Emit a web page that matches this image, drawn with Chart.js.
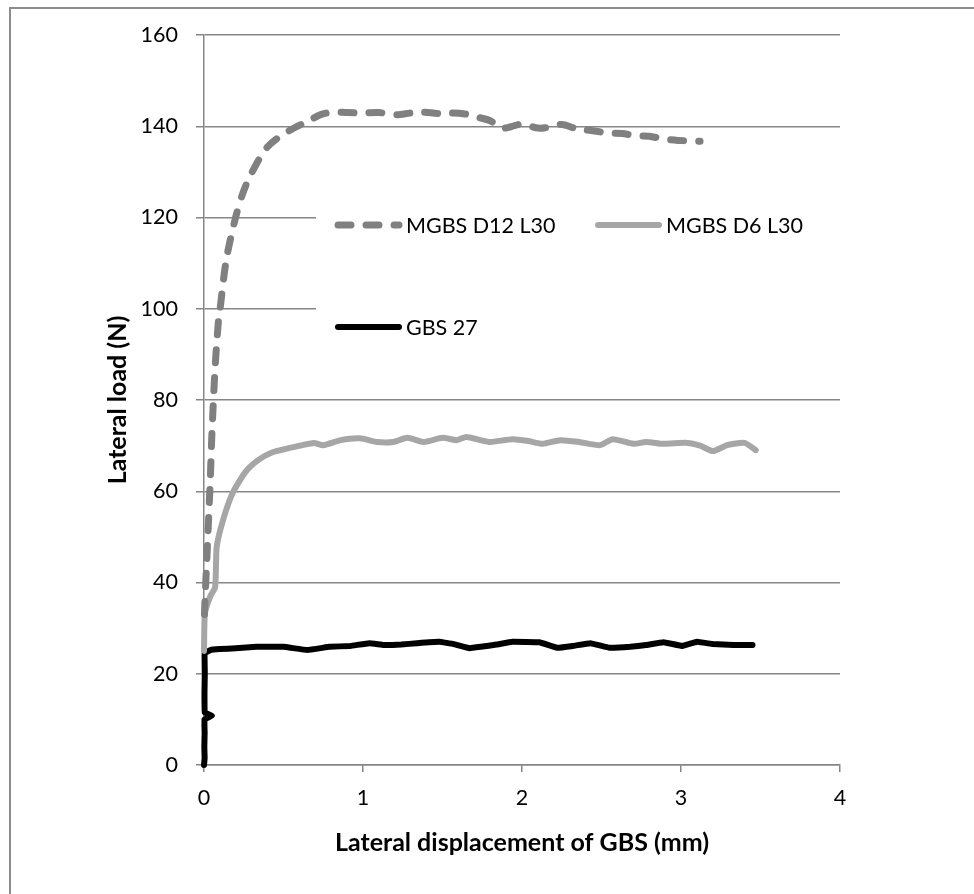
<!DOCTYPE html>
<html>
<head>
<meta charset="utf-8">
<script src="https://cdn.jsdelivr.net/npm/chart.js@4"></script>
<style>
  html, body { margin: 0; padding: 0; background: #fff; overflow: hidden; }
  #wrap { position: relative; width: 974px; height: 894px; }
  #frame { position: absolute; left: 9px; top: 7px; width: 1000px; height: 1000px; border: 2px solid #8c8c8c; box-sizing: border-box; }
  #c { position: absolute; left: 0; top: 0; }
</style>
</head>
<body>
<div id="wrap">
  <div id="frame"></div>
  <canvas id="c" width="974" height="894"></canvas>
</div>
<script>
// series labels
const seriesNames = ["MGBS D12 L30", "MGBS D6 L30", "GBS 27"];

// MGBS D12 L30 (dashed, dark gray)
const d12X = [0.003, 0.006, 0.015, 0.025, 0.04, 0.05, 0.07, 0.09, 0.1, 0.14, 0.195, 0.245, 0.3, 0.4, 0.52, 0.67, 0.73, 0.81, 0.9, 1.0, 1.1, 1.21, 1.3, 1.38, 1.47, 1.55, 1.64, 1.72, 1.8, 1.87, 1.93, 2.0, 2.1, 2.17, 2.25, 2.33, 2.4, 2.47, 2.54, 2.63, 2.72, 2.8, 2.89, 2.98, 3.07, 3.12];
const d12Y = [33, 36, 43, 50.8, 63, 72.8, 87.2, 97, 99.7, 110.7, 119.5, 125.4, 129.8, 135.5, 138.7, 141.4, 142.5, 143.1, 143.0, 142.9, 143.0, 142.5, 142.9, 143.1, 142.8, 142.9, 142.7, 142.0, 141.2, 139.6, 139.9, 140.5, 139.6, 139.8, 140.4, 139.6, 139.2, 138.9, 138.5, 138.4, 137.9, 137.8, 137.2, 136.9, 136.8, 136.7];

// MGBS D6 L30 (solid, light gray)
const d6X = [0, 0.006, 0.04, 0.07, 0.08, 0.12, 0.18, 0.26, 0.34, 0.42, 0.54, 0.69, 0.75, 0.86, 0.98, 1.09, 1.19, 1.28, 1.38, 1.5, 1.59, 1.65, 1.74, 1.8, 1.94, 2.04, 2.13, 2.24, 2.36, 2.49, 2.57, 2.7, 2.78, 2.89, 3.04, 3.12, 3.2, 3.29, 3.4, 3.47];
const d6Y = [25, 33.3, 37, 39, 47.8, 53.7, 59.6, 64.2, 66.8, 68.4, 69.5, 70.6, 70.1, 71.2, 71.6, 70.8, 70.8, 71.7, 70.8, 71.7, 71.2, 71.9, 71.2, 70.8, 71.4, 71.0, 70.4, 71.2, 70.8, 70.1, 71.4, 70.4, 70.8, 70.4, 70.6, 70.0, 68.8, 70.1, 70.6, 69.0];

// GBS 27 (solid, black)
const gbsX = [0, 0.004, 0.002, 0.004, 0.003, 0.05, 0.005, 0.003, 0.005, 0.004, 0.04, 0.1, 0.2, 0.33, 0.5, 0.65, 0.79, 0.92, 1.04, 1.13, 1.24, 1.34, 1.48, 1.57, 1.67, 1.74, 1.84, 1.94, 2.11, 2.22, 2.32, 2.43, 2.55, 2.68, 2.78, 2.89, 3.01, 3.1, 3.2, 3.33, 3.45];
const gbsY = [0, 1.5, 4, 7, 10, 10.8, 11.5, 16, 20, 24.5, 25.2, 25.4, 25.6, 25.9, 25.9, 25.2, 25.9, 26.1, 26.7, 26.3, 26.4, 26.7, 27.0, 26.5, 25.6, 25.9, 26.4, 27.0, 26.9, 25.7, 26.1, 26.7, 25.7, 25.9, 26.3, 26.9, 26.1, 27.0, 26.5, 26.3, 26.3];

// axis ticks
const xTicks = [0, 1, 2, 3, 4];
const yTicks = [0, 20, 40, 60, 80, 100, 120, 140, 160];

const toPts = (xs, ys) => xs.map((x, i) => ({ x: x, y: ys[i] }));

const gridGray = "#868686";
const fontFam = "Lato, 'Open Sans', sans-serif";

// custom legend laid inside the plot, on a white box
const legendBox = {
  id: "legendBox",
  afterDatasetsDraw(chart) {
    const ctx = chart.ctx;
    ctx.save();
    ctx.fillStyle = "#fff";
    ctx.fillRect(316, 196, 530, 146);
    const items = [
      { ds: 0, x: 335, y: 225 },
      { ds: 1, x: 595, y: 225 },
      { ds: 2, x: 335, y: 327 }
    ];
    items.forEach((it) => {
      const d = chart.data.datasets[it.ds];
      ctx.strokeStyle = d.borderColor;
      ctx.lineWidth = d.borderWidth;
      ctx.lineCap = "round";
      ctx.setLineDash(d.borderDash || []);
      ctx.beginPath();
      ctx.moveTo(it.x + 3, it.y);
      ctx.lineTo(it.x + 64, it.y);
      ctx.stroke();
      ctx.setLineDash([]);
      ctx.fillStyle = "#000";
      ctx.font = "21.5px " + fontFam;
      ctx.textBaseline = "middle";
      ctx.textAlign = "left";
      ctx.fillText(d.label, it.x + 71, it.y + 1);
    });
    ctx.restore();
  }
};

new Chart(document.getElementById("c"), {
  type: "line",
  data: {
    datasets: [
      {
        label: seriesNames[0],
        data: toPts(d12X, d12Y),
        borderColor: "#808080",
        borderWidth: 7,
        borderDash: [13, 15],
        borderCapStyle: "round",
        borderJoinStyle: "round",
        pointRadius: 0,
        tension: 0.3,
        clip: 8
      },
      {
        label: seriesNames[1],
        data: toPts(d6X, d6Y),
        borderColor: "#a6a6a6",
        borderWidth: 6,
        borderCapStyle: "round",
        borderJoinStyle: "round",
        pointRadius: 0,
        tension: 0.2,
        clip: 8
      },
      {
        label: seriesNames[2],
        data: toPts(gbsX, gbsY),
        borderColor: "#000000",
        borderWidth: 6,
        borderCapStyle: "round",
        borderJoinStyle: "round",
        pointRadius: 0,
        tension: 0.05,
        clip: 8
      }
    ]
  },
  options: {
    responsive: false,
    animation: false,
    layout: { padding: { left: 20, top: 35, right: 134, bottom: 29 } },
    plugins: { legend: { display: false }, tooltip: { enabled: false } },
    scales: {
      x: {
        type: "linear",
        min: 0,
        max: 4,
        afterBuildTicks: (s) => { s.ticks = xTicks.map(v => ({ value: v })); },
        afterFit: (s) => { s.height = 100; },
        grid: { drawOnChartArea: false, tickLength: 7, tickColor: gridGray, lineWidth: 1.5 },
        border: { display: true, color: gridGray, width: 1.5 },
        ticks: { color: "#000", padding: 13, font: { family: fontFam, size: 21.5 } },
        title: {
          display: true,
          text: "Lateral displacement of GBS (mm)",
          color: "#000",
          font: { family: fontFam, size: 25, weight: "bold" },
          padding: { top: 0, bottom: 7 }
        }
      },
      y: {
        min: 0,
        max: 160,
        afterBuildTicks: (s) => { s.ticks = yTicks.map(v => ({ value: v })); },
        afterFit: (s) => { s.width = 184; },
        grid: { color: gridGray, lineWidth: 1.5, tickLength: 8 },
        border: { display: true, color: gridGray, width: 1.5 },
        ticks: { color: "#000", padding: 18, font: { family: fontFam, size: 21.5 } },
        title: {
          display: true,
          text: "Lateral load (N)",
          color: "#000",
          font: { family: fontFam, size: 25, weight: "bold" },
          padding: { top: 83, bottom: 0 }
        }
      }
    }
  },
  plugins: [legendBox]
});
</script>
</body>
</html>
